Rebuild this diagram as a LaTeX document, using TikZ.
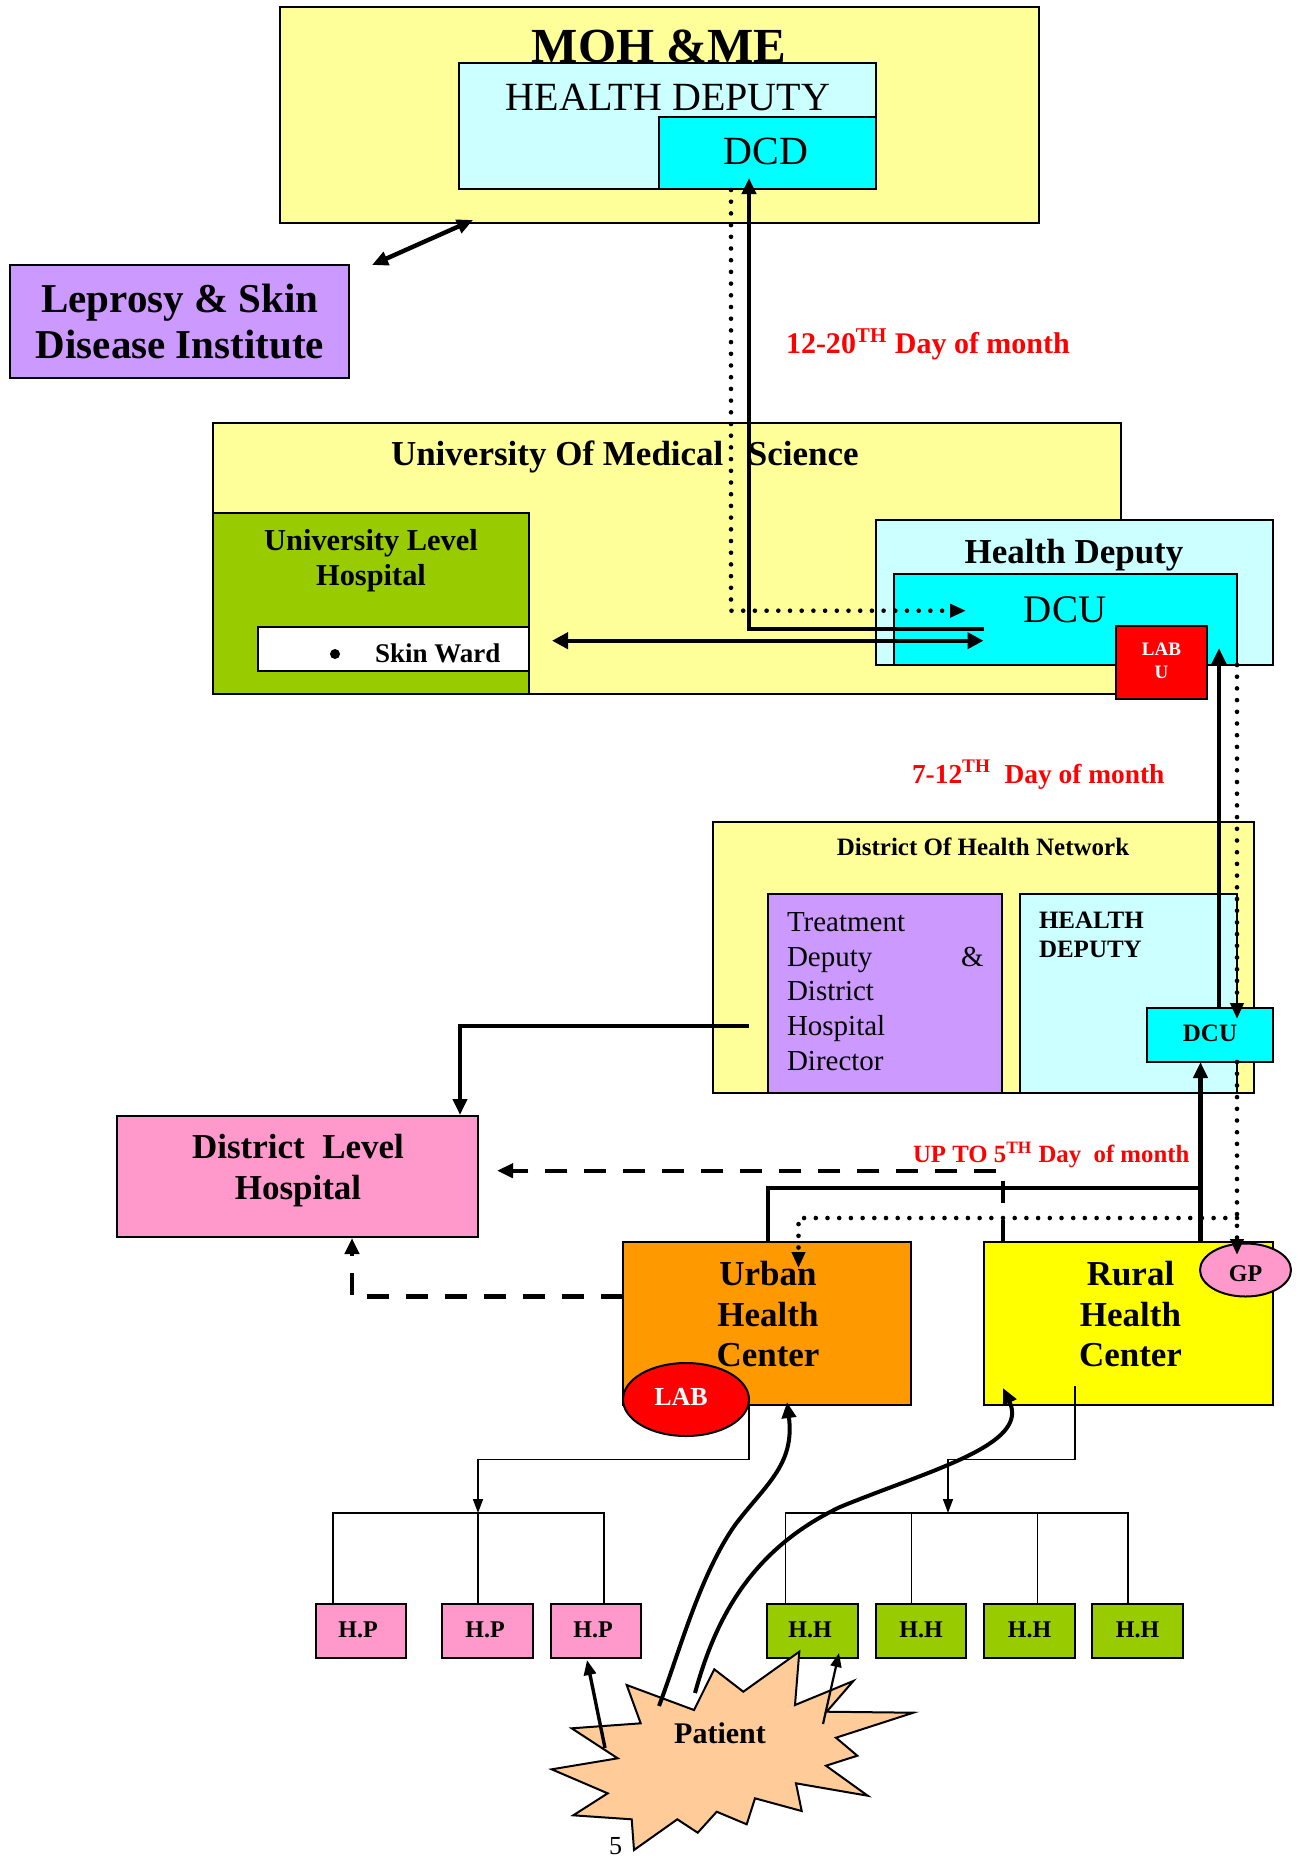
\documentclass[tikz,border=0pt]{standalone}
\usepackage{fontspec}
\setmainfont{Liberation Serif}
\usetikzlibrary{fit,arrows.meta,shapes.geometric}
\definecolor{lyel}{HTML}{FFFF99}
\definecolor{lcyan}{HTML}{CCFFFF}
\definecolor{cyn}{HTML}{00FFFF}
\definecolor{purp}{HTML}{CC99FF}
\definecolor{grn}{HTML}{99CC00}
\definecolor{pnk}{HTML}{FF99CC}
\definecolor{orng}{HTML}{FF9900}
\definecolor{yel}{HTML}{FFFF00}
\definecolor{rd}{HTML}{FF0000}
\definecolor{peach}{HTML}{FFCC99}
\tikzset{
 bx/.style={draw=black,line width=1pt,inner sep=0pt},
 tx/.style={anchor=base,inner sep=0pt,outer sep=0pt},
 txl/.style={anchor=base west,inner sep=0pt,outer sep=0pt},
 thk/.style={line width=2.2pt},
 tip/.style={-{Triangle[length=8pt,width=7pt]}},
 dtl/.style={line width=2.3pt,dash pattern=on 0pt off 5.85pt,line cap=round},
 dsh/.style={line width=2.2pt,dash pattern=on 11pt off 8.5pt},
 thn/.style={line width=0.8pt},
 smalltip/.style={-{Triangle[length=7pt,width=5pt]}},
}
\newcommand{\rbox}[6]{%
 \coordinate (#1-a) at (#2,#3);\coordinate (#1-b) at (#4,#5);%
 \node[bx,fit=(#1-a)(#1-b),#6] (#1) {};}
\newcommand{\fsz}[1]{\fontsize{#1}{#1}\selectfont}
\begin{document}
\begin{tikzpicture}[x=0.5pt,y=-0.5pt]
\useasboundingbox (0,0) rectangle (1297,1858);
% ---------- MOH ----------
\rbox{moh}{280}{7}{1039}{223}{fill=lyel}
\node[tx,font=\fsz{24.5}\bfseries] (mohT) at (659,62) {MOH \&ME};
\rbox{hd}{459}{63}{876}{189}{fill=lcyan}
\rbox{dcd}{659}{117}{876}{189}{fill=cyn}
\node[tx,font=\fsz{20}] (hdT) at (668,110) {HEALTH DEPUTY};
\node[tx,font=\fsz{20}] (dcdT) at (766,164) {DCD};
% ---------- Leprosy ----------
\rbox{lep}{10}{265}{349}{378}{fill=purp}
\node[tx,font=\fsz{20.5}\bfseries] (lepT1) at (180,312) {Leprosy \& Skin};
\node[tx,font=\fsz{20.5}\bfseries] (lepT2) at (180,358) {Disease Institute};
% ---------- University ----------
\rbox{ums}{213}{423}{1121}{694}{fill=lyel}
\node[txl,font=\fsz{17.5}\bfseries] (umsT) at (391,465) {University Of Medical\hspace{0.45em} Science};
\rbox{ulh}{213}{513}{529}{694}{fill=grn}
\node[tx,font=\fsz{15.2}\bfseries] (ulhT1) at (371,550) {University Level};
\node[tx,font=\fsz{15.2}\bfseries] (ulhT2) at (371,585) {Hospital};
\rbox{skin}{258}{627}{529}{671}{fill=white}
\node[fill=black,circle,inner sep=0pt,minimum size=5pt] (bul) at (335,654) {};
\node[txl,font=\fsz{13.5}\bfseries] (skinT) at (375,662) {Skin Ward};
\rbox{hdep}{876}{520}{1273}{665}{fill=lcyan}
\node[tx,font=\fsz{17.5}\bfseries] (hdepT) at (1074,563) {Health Deputy};
\rbox{dcu}{894}{574}{1237}{665}{fill=cyn}
\node[tx,font=\fsz{19.5}] (dcuT) at (1065,622) {DCU};
\rbox{labu}{1116}{626}{1207}{699}{fill=rd}
\node[tx,font=\fsz{9.5}\bfseries,text=white] (labuT1) at (1161.5,655) {LAB};
\node[tx,font=\fsz{9.5}\bfseries,text=white] (labuT2) at (1161.5,678) {U};
% ---------- District network ----------
\rbox{dhn}{713}{822}{1254}{1093}{fill=lyel}
\node[tx,font=\fsz{12.5}\bfseries] (dhnT) at (983,855) {District Of Health Network};
\rbox{treat}{768}{894}{1002}{1093}{fill=purp}
\node[txl,font=\fsz{14.5}] (trT1) at (787,931.7) {Treatment};
\node[txl,font=\fsz{14.5}] (trT2) at (787,966.7) {Deputy};
\node[txl,font=\fsz{14.5}] (trT2b) at (961,966.7) {\&};
\node[txl,font=\fsz{14.5}] (trT3) at (787,1000.5) {District};
\node[txl,font=\fsz{14.5}] (trT4) at (787,1035) {Hospital};
\node[txl,font=\fsz{14.5}] (trT5) at (787,1070) {Director};
\rbox{hd2}{1020}{894}{1237}{1093}{fill=lcyan}
\node[txl,font=\fsz{12.5}\bfseries] (hd2T1) at (1039,928) {HEALTH};
\node[txl,font=\fsz{12.5}\bfseries] (hd2T2) at (1039,957) {DEPUTY};
\rbox{dcu2}{1147}{1008}{1273}{1062}{fill=cyn}
\node[tx,font=\fsz{12.5}\bfseries] (dcu2T) at (1210,1041.5) {DCU};
% ---------- District level hospital ----------
\rbox{dlh}{117}{1116}{478}{1237}{fill=pnk}
\node[tx,font=\fsz{17.5}\bfseries] (dlhT1) at (298,1158) {District\hspace{0.25em} Level};
\node[tx,font=\fsz{17.5}\bfseries] (dlhT2) at (298,1199) {Hospital};
% ---------- Health centers ----------
\rbox{urban}{623}{1242}{911}{1405}{fill=orng}
\node[tx,font=\fsz{17.5}\bfseries] (urT1) at (768,1285) {Urban};
\node[tx,font=\fsz{17.5}\bfseries] (urT2) at (768,1326) {Health};
\node[tx,font=\fsz{17.5}\bfseries] (urT3) at (768,1366.5) {Center};
\rbox{rural}{984}{1242}{1273}{1405}{fill=yel}
\node[tx,font=\fsz{17.5}\bfseries] (ruT1) at (1130.5,1285) {Rural};
\node[tx,font=\fsz{17.5}\bfseries] (ruT2) at (1130.5,1326) {Health};
\node[tx,font=\fsz{17.5}\bfseries] (ruT3) at (1130.5,1366.5) {Center};
\node[ellipse,bx,fill=rd,minimum width=63pt,minimum height=36.5pt] (lab) at (686,1399.5) {};
\node[tx,font=\fsz{13}\bfseries,text=white] (labT) at (681,1405) {LAB};
\node[ellipse,bx,fill=pnk,minimum width=45.5pt,minimum height=26.5pt] (gp) at (1245.5,1270) {};
\node[tx,font=\fsz{12}\bfseries] (gpT) at (1245.5,1281) {GP};
% ---------- H.P and H.H ----------
\rbox{hp1}{316}{1604}{406}{1658}{fill=pnk}
\rbox{hp2}{442}{1604}{533}{1658}{fill=pnk}
\rbox{hp3}{551}{1604}{641}{1658}{fill=pnk}
\rbox{hh1}{767}{1604}{858}{1658}{fill=grn}
\rbox{hh2}{876}{1604}{966}{1658}{fill=grn}
\rbox{hh3}{984}{1604}{1075}{1658}{fill=grn}
\rbox{hh4}{1092}{1604}{1183}{1658}{fill=grn}
\foreach \n/\cx in {hp1/358,hp2/485,hp3/593}{\node[tx,font=\fsz{12}\bfseries] (\n T) at (\cx,1637) {H.P};}
\foreach \n/\cx in {hh1/810,hh2/921,hh3/1029.5,hh4/1137.5}{\node[tx,font=\fsz{12}\bfseries] (\n T) at (\cx,1637) {H.H};}
% ---------- labels ----------
\node[txl,font=\fsz{15}\bfseries,text=red] (lbl1) at (786,353) {12-20\textsuperscript{TH} Day of month};
\node[txl,font=\fsz{13.7}\bfseries,text=red] (lbl2) at (912,783) {7-12\textsuperscript{TH}\hspace{0.25em} Day of month};
\node[txl,font=\fsz{12.4}\bfseries,text=red] (lbl3) at (913,1162) {UP TO 5\textsuperscript{TH} Day\hspace{0.25em} of month};
% ---------- connectors (top) ----------
\coordinate (lA) at (372,265); \coordinate (lB) at (473,220);
\draw[thk,{Triangle[length=8pt,width=7pt]}-{Triangle[length=8pt,width=7pt]}] (lA) -- (lB);
\coordinate (s1) at (983.5,628.7); \coordinate (s2) at (749,628.7); \coordinate (s3) at (749,178);
\draw[thk,tip] (s1) -- (s2) -- (s3);
\coordinate (d1) at (731,190); \coordinate (d2) at (731,610.7); \coordinate (d3) at (966,610.7);
\draw[dtl,-{Triangle[length=8pt,width=6.5pt]}] (d1) -- (d2) -- (d3);
\coordinate (w1) at (552,640.7); \coordinate (w2) at (983.5,640.7);
\draw[thk,{Triangle[length=8pt,width=8pt]}-{Triangle[length=8pt,width=8pt]}] (w1) -- (w2);
% ---------- connectors (middle) ----------
\coordinate (u1) at (1219,1008); \coordinate (u2) at (1219,648);
\draw[thk,tip] (u1) -- (u2);
\coordinate (v1) at (1237,665); \coordinate (v2) at (1237,1019);
\draw[dtl,-{Triangle[length=8pt,width=6.5pt]}] (v1) -- (v2);
\coordinate (g1) at (1237,1062); \coordinate (g2) at (1237,1255);
\draw[dtl,-{Triangle[length=8pt,width=6.5pt]}] (g1) -- (g2);
\coordinate (h1) at (1237,1218); \coordinate (h2) at (798.5,1218); \coordinate (h3) at (798.5,1268);
\draw[dtl,-{Triangle[length=8pt,width=6.5pt]}] (h1) -- (h2) -- (h3);
\coordinate (r1) at (1200.5,1242); \coordinate (r2) at (1200.5,1062);
\draw[thk,tip] (r1) -- (r2);
\coordinate (k1) at (768,1242); \coordinate (k2) at (768,1188); \coordinate (k3) at (1200.5,1188);
\draw[thk] (k1) -- (k2) -- (k3);
\coordinate (e1) at (1003,1242); \coordinate (e2) at (1003,1170.7); \coordinate (e3) at (497,1170.7);
\draw[dsh,tip] (e1) -- (e2) -- (e3);
\coordinate (f1) at (623,1296.5); \coordinate (f2) at (352,1296.5); \coordinate (f3) at (352,1238);
\draw[dsh,tip] (f1) -- (f2) -- (f3);
\coordinate (t1) at (749,1026); \coordinate (t2) at (460,1026); \coordinate (t3) at (460,1115);
\draw[thk,tip] (t1) -- (t2) -- (t3);
% ---------- tree lines ----------
\coordinate (p1) at (749,1405); \coordinate (p2) at (749,1459.3); \coordinate (p3) at (478,1459.3); \coordinate (p4) at (478,1513);
\draw[thn,smalltip] (p1) -- (p2) -- (p3) -- (p4);
\draw[thn] (333,1604) -- (333,1513) -- (604,1513) -- (604,1604);
\draw[thn] (478,1513) -- (478,1604);
\coordinate (q1) at (1075,1386); \coordinate (q2) at (1075,1459.3); \coordinate (q3) at (948,1459.3); \coordinate (q4) at (948,1513);
\draw[thn,smalltip] (q1) -- (q2) -- (q3) -- (q4);
\draw[thn] (785.5,1604) -- (785.5,1513) -- (1128,1513) -- (1128,1604);
\draw[thn] (911.5,1513) -- (911.5,1604);
\draw[thn] (1037.5,1513) -- (1037.5,1604);
% ---------- patient ----------
\draw[fill=peach,line width=1pt,line join=miter]
 (626.7,1685) -- (694,1710) -- (714.3,1669.3) -- (743.3,1691.7) -- (799.3,1651.7) -- (795,1705)
 -- (853.3,1681) -- (826.7,1711.7) -- (913.3,1712.7) -- (836,1737.7) -- (857.3,1755.7) -- (826,1765.7)
 -- (867.7,1795.7) -- (796,1783.3) -- (801.7,1811) -- (755,1798.3) -- (746.7,1824.3) -- (716.7,1811.7)
 -- (697.7,1832.7) -- (677.3,1819.3) -- (634,1850) -- (631.7,1819.3) -- (573.3,1815.3) -- (607.7,1793.3)
 -- (551.7,1769.3) -- (617.7,1758.3) -- (571.7,1728.3) -- (640.7,1723.3) -- cycle;
\node[tx,font=\fsz{15}\bfseries] (patient) at (720,1743.3) {Patient};
\coordinate (ca0) at (659,1706); \coordinate (ca1) at (735,1525); \coordinate (ca2) at (787,1402);
\draw[line width=2pt,tip] (ca0) .. controls (680,1650) and (700,1575) .. (ca1) .. controls (765,1485) and (795,1465) .. (ca2);
\coordinate (cb0) at (695,1693); \coordinate (cb1) at (840,1507); \coordinate (cb2) at (1003,1388);
\draw[line width=2pt,tip] (cb0) .. controls (715,1620) and (750,1550) .. (cb1) .. controls (930,1470) and (1030,1445) .. (cb2);
\coordinate (a1) at (605,1748); \coordinate (a2) at (587,1660);
\draw[line width=1.7pt,-{Triangle[length=7.5pt,width=6pt]}] (a1) -- (a2);
\coordinate (b1) at (823,1724); \coordinate (b2) at (839,1653);
\draw[line width=1.1pt,-{Triangle[length=7pt,width=5.5pt]}] (b1) -- (b2);
\node[txl,font=\fsz{13}] (pgno) at (609,1854) {5};
\end{tikzpicture}
\end{document}
